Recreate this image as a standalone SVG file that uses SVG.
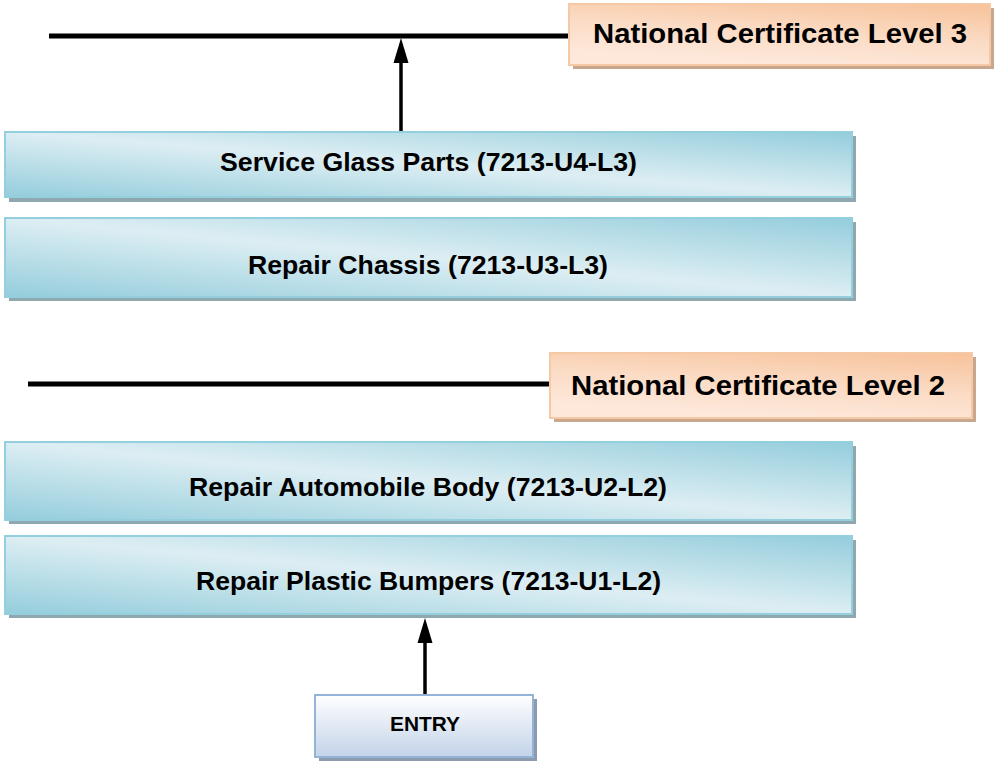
<svg xmlns="http://www.w3.org/2000/svg" width="996" height="762" viewBox="0 0 996 762">
<style>
.unit{fill:url(#blueGrad);stroke:#93cfdd;stroke-width:2}
.ushadow{fill:#8fa7af}
.cert{fill:url(#orangeGrad);stroke:#f5c9a6;stroke-width:2}
.cshadow{fill:#c9a78e}
.t{font-family:"Liberation Sans",Arial,sans-serif;font-weight:bold;fill:#000;text-anchor:middle}
.ut{font-size:26px}
.ct{font-size:27px}
.line{stroke:#000;stroke-width:5}
.arrow{stroke:#000;stroke-width:3.5;fill:none}
</style>
<defs>
<linearGradient id="blueGrad" x1="1" y1="0" x2="0" y2="1">
<stop offset="0" stop-color="#94cddc"/>
<stop offset="0.5" stop-color="#ddeef3"/>
<stop offset="1" stop-color="#94cddc"/>
</linearGradient>
<linearGradient id="orangeGrad" x1="1" y1="0" x2="0.6" y2="1">
<stop offset="0" stop-color="#f7c29a"/>
<stop offset="0.55" stop-color="#fbdbc4"/>
<stop offset="1" stop-color="#fde8da"/>
</linearGradient>
<linearGradient id="entryGrad" x1="0" y1="0" x2="0" y2="1">
<stop offset="0" stop-color="#ffffff"/>
<stop offset="1" stop-color="#c3d3e9"/>
</linearGradient>
</defs>

<g id="connectors">
<line class="line" x1="49" y1="36" x2="570" y2="36"/>
<line class="line" x1="28" y1="384" x2="551" y2="384"/>
<line class="arrow" x1="401" y1="131" x2="401" y2="62"/>
<path d="M401,38 L393.5,63 L408.5,63 Z" fill="#000"/>
<line class="arrow" x1="425" y1="695" x2="425" y2="642"/>
<path d="M425,618 L417.5,643 L432.5,643 Z" fill="#000"/>
</g>

<g id="cert3">
<rect class="cshadow" x="573" y="8" width="421" height="61"/>
<rect class="cert" x="569" y="4" width="421" height="61"/>
<text class="t ct" x="780" y="43" textLength="374" lengthAdjust="spacingAndGlyphs">National Certificate Level 3</text>
</g>

<g id="unit4">
<rect class="ushadow" x="9" y="136" width="847" height="66"/>
<rect class="unit" x="5" y="132" width="847" height="65"/>
<text class="t ut" x="428.5" y="171" textLength="417" lengthAdjust="spacingAndGlyphs">Service Glass Parts (7213-U4-L3)</text>
</g>

<g id="unit3">
<rect class="ushadow" x="9" y="222" width="847" height="79"/>
<rect class="unit" x="5" y="218" width="847" height="79"/>
<text class="t ut" x="428" y="274" textLength="360" lengthAdjust="spacingAndGlyphs">Repair Chassis (7213-U3-L3)</text>
</g>

<g id="cert2">
<rect class="cshadow" x="554" y="357" width="422" height="65"/>
<rect class="cert" x="550" y="353" width="422" height="65"/>
<text class="t ct" x="758" y="395" textLength="374" lengthAdjust="spacingAndGlyphs">National Certificate Level 2</text>
</g>

<g id="unit2">
<rect class="ushadow" x="9" y="446" width="847" height="78"/>
<rect class="unit" x="5" y="442" width="847" height="78"/>
<text class="t ut" x="428" y="496" textLength="478" lengthAdjust="spacingAndGlyphs">Repair Automobile Body (7213-U2-L2)</text>
</g>

<g id="unit1">
<rect class="ushadow" x="9" y="540" width="847" height="78"/>
<rect class="unit" x="5" y="536" width="847" height="78"/>
<text class="t ut" x="428.5" y="590" textLength="465" lengthAdjust="spacingAndGlyphs">Repair Plastic Bumpers (7213-U1-L2)</text>
</g>

<g id="entry">
<rect x="319" y="699" width="218" height="62" fill="#8c9bb0"/>
<rect x="315" y="695" width="218" height="62" fill="url(#entryGrad)" stroke="#95b3d7" stroke-width="2"/>
<text class="t" x="425" y="731" font-size="20" textLength="70" lengthAdjust="spacingAndGlyphs">ENTRY</text>
</g>
</svg>
